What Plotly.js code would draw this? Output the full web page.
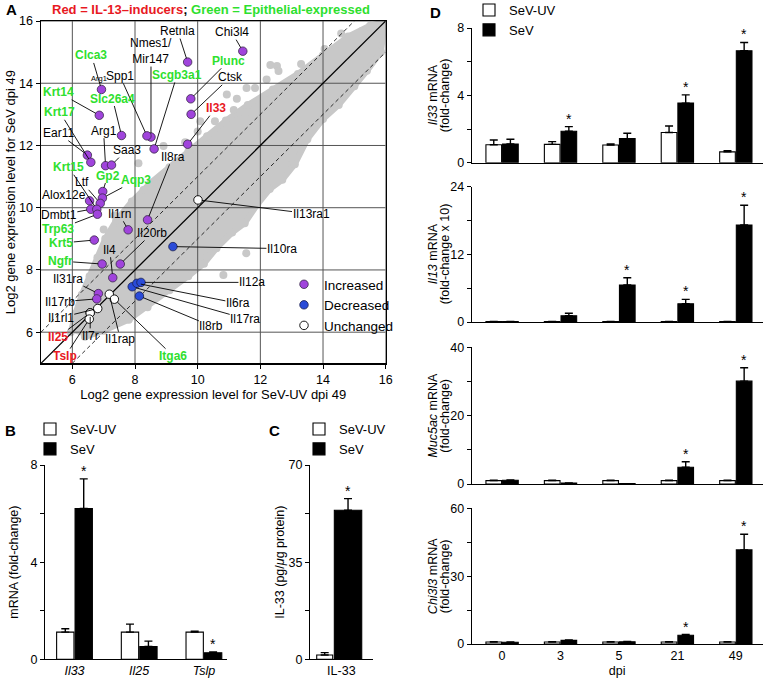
<!DOCTYPE html>
<html><head><meta charset="utf-8">
<script src="https://cdn.plot.ly/plotly-3.0.1.min.js"></script>
<style>html,body{margin:0;padding:0;background:#fff}#chart{width:772px;height:687px}</style>
</head><body><div id="chart"></div>
<script>
// ================= DATA =================
// Panel A — labelled genes (log2 SeV-UV dpi49 vs log2 SeV dpi49)
const incGenes = ['Chi3l4','Retnla','Plunc','Ctsk','Il33','Nmes1/Mir147','Spp1','Scgb3a1','Clca3','Krt14','Slc26a4','Arg1','Saa3','Ear11','Krt17','Gp2','Aqp3','Ltf','Alox12e','Dmbt1','Krt15','Trp63','Il1rn','Il8ra','Krt5','Ngfr','Il20rb','Il4','Il31ra','Il17rb'];
const incX = [11.44,9.68,9.78,9.79,9.68,8.51,8.38,8.61,6.93,6.86,7.57,7.06,7.25,6.48,6.59,6.97,6.96,6.89,6.55,6.59,6.78,6.80,7.78,8.40,6.70,6.95,7.53,7.29,6.83,6.78];
const incY = [15.03,14.68,13.50,13.00,12.04,12.27,12.31,11.89,13.80,12.97,12.32,11.35,11.37,11.69,11.46,10.52,10.31,10.14,10.22,9.95,9.95,9.79,9.29,9.61,8.96,8.19,8.19,7.75,7.24,7.07];
const decGenes = ['Il10ra','Il17ra','Il6ra','Il12a','Il8rb'];
const decX = [9.21,7.91,8.06,8.19,8.14];
const decY = [8.75,7.46,7.57,7.60,7.16];
const uncGenes = ['Il13ra1','Il1rap','Itga6','Il1rl1','Il25','Il7r','Tslp'];
const uncX = [10.01,7.18,7.34,6.81,6.57,6.57,6.54];
const uncY = [10.25,7.22,7.06,6.76,6.62,6.62,6.42];
const greenGenes = ['Clca3','Krt14','Krt17','Slc26a4','Scgb3a1','Plunc','Krt15','Gp2','Aqp3','Trp63','Krt5','Ngfr','Itga6'];
const redGenes = ['Il33','Il25','Tslp'];
// Panel A — grey cloud of all other genes (outline of dense core + scattered genes)
const cloudX = [5.95,6.1,6.3,6.55,6.8,7.05,7.4,7.9,8.5,9.1,9.7,10.3,10.9,11.6,12.4,13.2,14.0,14.8,15.5,15.9,
                15.95,15.85,15.4,15.0,14.5,14.0,13.5,13.1,12.7,12.3,11.9,11.5,11.1,10.6,10.2,9.7,9.1,8.4,7.8,7.0,6.4];
const cloudY = [6.0,6.6,7.2,7.8,8.4,9.0,9.6,10.2,10.8,11.3,11.8,12.3,12.8,13.3,13.8,14.3,14.9,15.5,15.85,15.95,
                15.85,15.0,14.4,13.9,13.3,12.85,12.2,11.4,10.9,10.6,10.1,9.5,9.2,8.7,8.2,7.8,7.35,6.8,6.4,6.05,5.85];
const otherX = [14.58,15.24,12.53,12.58,12.20,12.32,11.83,11.56,11.25,10.93,10.55,11.51,10.08,11.15,12.95,11.55,10.82,10.30,8.91,8.27,8.70,8.11,7.85,13.30,14.05,9.60,10.0,7.0,7.35];
const otherY = [15.60,15.68,14.55,14.39,14.12,14.59,13.85,13.85,13.50,13.64,12.78,13.05,12.78,13.14,11.60,8.54,7.84,8.43,11.98,10.57,10.79,11.43,10.04,14.62,15.10,12.10,12.45,9.30,9.75];
const diagOffsets = [-1, 0, 1];

// Panel B — mRNA fold-change
const bCats = ['Il33','Il25','Tslp'];
const bUV = [1.12,1.12,1.12], bUVerr = [0.14,0.33,0.04];
const bSeV = [6.21,0.53,0.27], bSeVerr = [1.22,0.22,0.03];
const bStars = [0,2];

// Panel C — IL-33 protein
const cCats = ['IL-33'];
const cUV = [1.55], cUVerr = [0.85];
const cSeV = [53.7], cSeVerr = [4.2];
const cStars = [0];

// Panel D — time course
const dpi = ['0','3','5','21','49'];
const dPanels = [
  {title:['<i>Il33</i> mRNA','(fold-change)'], max:8, step:2,
   uv:[1.07,1.09,1.05,1.79,0.64], uvErr:[0.28,0.16,0.06,0.39,0.07],
   sev:[1.11,1.87,1.43,3.54,6.65], sevErr:[0.28,0.27,0.32,0.49,0.49], stars:[1,3,4]},
  {title:['<i>Il13</i> mRNA','(fold-change x 10)'], max:24, step:6,
   uv:[0.08,0.08,0.08,0.08,0.08], uvErr:[0,0,0,0,0],
   sev:[0.08,1.12,6.56,3.25,17.2], sevErr:[0,0.42,1.3,0.77,3.5], stars:[2,3,4]},
  {title:['<i>Muc5ac</i> mRNA','(fold-change)'], max:40, step:10,
   uv:[1.0,1.0,1.0,1.0,1.0], uvErr:[0.1,0.1,0.1,0.1,0.1],
   sev:[1.1,0.3,0.1,4.9,30.1], sevErr:[0.1,0.0,0.0,1.6,3.9], stars:[3,4]},
  {title:['<i>Chi3l3</i> mRNA','(fold-change)'], max:60, step:15,
   uv:[0.9,0.9,0.9,0.9,0.9], uvErr:[0.1,0.1,0.1,0.1,0.1],
   sev:[0.8,1.6,1.0,3.9,41.6], sevErr:[0.1,0.2,0.1,0.3,6.9], stars:[3,4]}
];

// ================= LAYOUT HELPERS =================
const W = 772, H = 687;
const FONT = 'Liberation Sans, Arial, Helvetica, sans-serif';
const GREEN = '#2ee02e', RED = '#e8191f', PURPLE = '#a044dc', BLUE = '#2a4bd8', GREY = '#c8c8c8';
const fx = p => p / W, fy = p => 1 - p / H;
const BARGAP = 0.43;
const starShift = (1 - BARGAP) / 4;

// label offsets in px (text centre relative to point)
const labelOffset = {
  'Chi3l4':[-11,-19],'Retnla':[-10,-31],'Nmes1/Mir147':[0,-86],'Spp1':[-27,-60],'Plunc':[38,-38],
  'Ctsk':[39,-37],'Il33':[28,-36],'Scgb3a1':[23,-74],'Clca3':[-10,-34],'Krt14':[-41,-23],
  'Slc26a4':[-9,-37],'Krt17':[-31,-50],'Arg1':[-2,-35],'Ear11':[-29,-22],'Saa3':[15,-15],
  'Il8ra':[25,-63],'Krt15':[-28,-42],'Gp2':[5,-16],'Aqp3':[34,-18],'Ltf':[-18,-21],
  'Alox12e':[-26,-6],'Dmbt1':[-32,6],'Trp63':[-39,15],'Krt5':[-33,3],'Ngfr':[-42,-3],
  'Il1rn':[-9,-16],'Il20rb':[32,-31],'Il4':[-3,-28],'Il31ra':[-30,-15],'Il17rb':[-37,3],
  'Il1rl1':[-37,9],'Il25':[-32,24],'Tslp':[-24,37],'Il7r':[0,23],'Il1rap':[11,45],
  'Itga6':[59,57],'Il13ra1':[113,14],'Il10ra':[109,2],'Il12a':[111,0],'Il6ra':[101,20],
  'Il17ra':[113,32],'Il8rb':[72,30]
};

const traces = [];
const annotations = [];

// ---------- Panel A ----------
traces.push({x: cloudX, y: cloudY, type:'scatter', mode:'lines+markers', fill:'toself',
  fillcolor: GREY, line:{color:GREY, width:6}, marker:{color:GREY, size:8},
  xaxis:'x', yaxis:'y', showlegend:false, hoverinfo:'skip'});
traces.push({x: otherX, y: otherY, type:'scatter', mode:'markers', marker:{color:GREY, size:8},
  xaxis:'x', yaxis:'y', showlegend:false, hoverinfo:'skip'});
// grid (drawn over the cloud, as in the figure)
const aTicks = [6,8,10,12,14,16];
const gx = [], gy = [];
aTicks.forEach(t => { gx.push(t,t,null, 5,16,null); gy.push(5,16,null, t,t,null); });
traces.push({x: gx, y: gy, type:'scatter', mode:'lines', line:{color:'#555', width:1},
  xaxis:'x', yaxis:'y', showlegend:false, hoverinfo:'skip'});
diagOffsets.forEach(o => {
  const lo = Math.max(5, 5 - o), hi = Math.min(16, 16 - o);
  traces.push({x:[lo, hi], y:[lo + o, hi + o], type:'scatter', mode:'lines',
    line:{color:'#000', width: o === 0 ? 1.3 : 0.8, dash: o === 0 ? 'solid' : '4px,3px'},
    xaxis:'x', yaxis:'y', showlegend:false, hoverinfo:'skip'});
});
traces.push({x: incX, y: incY, text: incGenes, name:'Increased', type:'scatter', mode:'markers',
  marker:{color:PURPLE, size:8.5, line:{color:'#3a2a4a', width:0.8}}, xaxis:'x', yaxis:'y', legend:'legend'});
traces.push({x: decX, y: decY, text: decGenes, name:'Decreased', type:'scatter', mode:'markers',
  marker:{color:BLUE, size:8.5, line:{color:'#1a2050', width:0.8}}, xaxis:'x', yaxis:'y', legend:'legend'});
traces.push({x: uncX, y: uncY, text: uncGenes, name:'Unchanged', type:'scatter', mode:'markers',
  marker:{color:'#fff', size:8.5, line:{color:'#000', width:0.9}}, xaxis:'x', yaxis:'y', legend:'legend'});

function addGeneLabels(names, xs, ys) {
  names.forEach((g, i) => {
    const off = labelOffset[g] || [20, -20];
    const isG = greenGenes.includes(g), isR = redGenes.includes(g);
    annotations.push({xref:'x', yref:'y', x: xs[i], y: ys[i], ax: off[0], ay: off[1],
      text: (isG || isR) ? '<b>' + g.replace('/', '/<br>') + '</b>' : g.replace('/', '/<br>'),
      showarrow:true, arrowhead:0, arrowwidth:0.9, arrowcolor:'#000', standoff:4, borderpad:0,
      font:{family:FONT, size:12, color: isG ? GREEN : (isR ? RED : '#000')}});
  });
}
addGeneLabels(incGenes, incX, incY);
addGeneLabels(decGenes, decX, decY);
addGeneLabels(uncGenes, uncX, uncY);
// small secondary label next to Clca3
const ci = incGenes.indexOf('Clca3');
annotations.push({xref:'x', yref:'y', x: incX[ci], y: incY[ci], yshift: 11, xshift:-2, showarrow:false,
  text:'Arg1', font:{family:FONT, size:7.5, color:'#000'}});

// ---------- Bars helper ----------
function barPair(cats, uv, uvErr, sev, sevErr, xa, ya, legendId, show, extra) {
  const zeros = uv.map(() => 0);
  const eb = (arr) => ({type:'data', symmetric:false, array: arr, arrayminus: zeros,
    color:'#000', thickness:1.4, width:4});
  const t1 = Object.assign({x: cats, y: uv, name:'SeV-UV', type:'bar',
    marker:{color:'#fff', line:{color:'#000', width:1.1}}, error_y: eb(uvErr),
    xaxis: xa, yaxis: ya, legend: legendId, showlegend: show}, extra ? extra[0] : {});
  const t2 = Object.assign({x: cats, y: sev, name:'SeV', type:'bar',
    marker:{color:'#000', line:{color:'#000', width:1.1}}, error_y: eb(sevErr),
    xaxis: xa, yaxis: ya, legend: legendId, showlegend: show}, extra ? extra[1] : {});
  traces.push(t1, t2);
}
function stars(idxs, vals, errs, xref, yref, shift) {
  idxs.forEach(i => annotations.push({xref, yref, x: i + shift, y: vals[i] + errs[i],
    xanchor:'center', yanchor:'middle', yshift: 8, showarrow:false, text:'*',
    font:{family:FONT, size:14, color:'#000'}}));
}

// ---------- Panel B ----------
barPair(bCats, bUV, bUVerr, bSeV, bSeVerr, 'x2', 'y2', 'legend2', true);
stars(bStars, bSeV, bSeVerr, 'x2', 'y2', starShift);

// ---------- Panel C ----------
barPair(cCats, cUV, cUVerr, cSeV, cSeVerr, 'x3', 'y3', 'legend3', true,
  [{width:0.255, offset:-0.393}, {width:0.437, offset:-0.112}]);
stars(cStars, cSeV, cSeVerr, 'x3', 'y3', -0.112 + 0.437 / 2);

// ---------- Panel D ----------
dPanels.forEach((p, k) => {
  const n = k + 4;
  barPair(dpi, p.uv, p.uvErr, p.sev, p.sevErr, 'x' + n, 'y' + n, 'legend4', k === 0);
  stars(p.stars, p.sev, p.sevErr, 'x' + n, 'y' + n, starShift);
});

// ---------- Axes ----------
const tickFont = {family:FONT, size:12.5, color:'#000'};
const titleFont = {family:FONT, size:12.5, color:'#000'};
function yAx(domain, max, step, title, standoff) {
  const tv = [], tt = [];
  for (let v = 0; v <= max + 1e-9; v += step) { tv.push(v); tt.push((Math.round(v / step) % 2 === 0) ? String(v) : ''); }
  return {domain, range:[0, max], tickvals: tv, ticktext: tt, ticks:'outside', ticklen:4, tickwidth:1,
    tickcolor:'#000', showline:true, linecolor:'#000', linewidth:1, showgrid:false, zeroline:false,
    tickfont: tickFont, title:{text: title, font: titleFont, standoff}, fixedrange:true};
}
function xAx(domain, range, cats, ticktext, showLabels, title, anchor) {
  return {domain, range, type:'category', tickvals: cats, ticktext, ticks:'', showline:true,
    linecolor:'#000', linewidth:1, showgrid:false, zeroline:false, showticklabels: showLabels,
    tickfont: tickFont, title: title ? {text:title, font:titleFont, standoff:4} : {text:''},
    anchor, fixedrange:true};
}

const layout = {
  width: W, height: H, margin:{l:0, r:0, t:0, b:0, autoexpand:false}, paper_bgcolor:'#fff', plot_bgcolor:'rgba(0,0,0,0)',
  font:{family:FONT, size:12, color:'#000'},
  barmode:'group', bargap: BARGAP, bargroupgap: 0.06,
  xaxis:{domain:[fx(41), fx(385.7)], range:[5,16], tickvals:aTicks, ticks:'outside', ticklen:4,
    tickcolor:'#000', showline:true, mirror:true, linecolor:'#000', linewidth:1.5, showgrid:false,
    zeroline:false, tickfont:tickFont, anchor:'y', fixedrange:true,
    title:{text:'Log2 gene expression level for SeV-UV dpi 49', font:{family:FONT, size:13}, standoff:0}},
  yaxis:{domain:[fy(363.3), fy(21)], range:[5,16], tickvals:aTicks, ticks:'outside', ticklen:4,
    tickcolor:'#000', showline:true, mirror:true, linecolor:'#000', linewidth:1.5, showgrid:false,
    zeroline:false, tickfont:tickFont, anchor:'x', fixedrange:true,
    title:{text:'Log2 gene expression level for SeV dpi 49', font:{family:FONT, size:13}, standoff:0}},
  xaxis2: xAx([fx(45), fx(227)], [-0.456, 2.357], bCats, bCats.map(c => '<i>' + c + '</i>'), true, '', 'y2'),
  yaxis2: Object.assign(yAx([fy(659.3), fy(465)], 8, 2, 'mRNA (fold-change)', 9), {anchor:'x2'}),
  xaxis3: xAx([fx(310), fx(372.7)], [-0.5, 0.5], cCats, cCats, true, '', 'y3'),
  yaxis3: Object.assign(yAx([fy(659.3), fy(465)], 70, 17.5, 'IL-33 (pg/<i>μ</i>g protein)', 1), {anchor:'x3'}),
  annotations: annotations,
  showlegend: true,
  legend:{x:fx(284), y:fy(269), xanchor:'left', yanchor:'top', bgcolor:'rgba(0,0,0,0)',
    font:{family:FONT, size:13.5}, tracegroupgap:0},
  legend2:{x:fx(30), y:fy(414), xanchor:'left', yanchor:'top', bgcolor:'rgba(0,0,0,0)',
    font:{family:FONT, size:13}, traceorder:'normal'},
  legend3:{x:fx(299), y:fy(414), xanchor:'left', yanchor:'top', bgcolor:'rgba(0,0,0,0)',
    font:{family:FONT, size:13}, traceorder:'normal'},
  legend4:{x:fx(469), y:fy(-5), xanchor:'left', yanchor:'top', bgcolor:'rgba(0,0,0,0)',
    font:{family:FONT, size:13}, traceorder:'normal'}
};
const dDomains = [[fy(162.7), fy(28)], [fy(322), fy(186.7)], [fy(484), fy(347.3)], [fy(644), fy(508.3)]];
dPanels.forEach((p, k) => {
  const n = k + 4;
  layout['xaxis' + n] = xAx([fx(471.7), fx(762.7)], [-0.52, 4.46], dpi, dpi, k === 3, k === 3 ? 'dpi' : '', 'y' + n);
  layout['yaxis' + n] = Object.assign(yAx(dDomains[k], p.max, p.step, '', 0), {anchor:'x' + n});
  // two-line y title, lines placed as in the figure
  const yc = (dDomains[k][0] + dDomains[k][1]) / 2;
  p.title.forEach((line, j) => annotations.push({xref:'paper', yref:'paper', x: fx(433 + 12 * j), y: yc,
    xanchor:'center', yanchor:'middle', textangle:-90, showarrow:false, text: line, font: titleFont}));
});

// panel letters & header
[['A',11.5,10],['B',10,430],['C',274,430],['D',435,12]].forEach(([t, x, y]) =>
  annotations.push({xref:'paper', yref:'paper', x: fx(x), y: fy(y), xanchor:'center', yanchor:'middle',
    showarrow:false, text:'<b>' + t + '</b>', font:{family:FONT, size:15, color:'#000'}}));
annotations.push({xref:'paper', yref:'paper', x: fx(210.7), y: fy(9), xanchor:'center', yanchor:'middle',
  showarrow:false,
  text:'<b><span style="color:' + RED + '">Red = IL-13–inducers</span>; <span style="color:' + GREEN + '">Green = Epithelial-expressed</span></b>',
  font:{family:FONT, size:13, color:'#000'}});

Plotly.newPlot('chart', traces, layout, {displayModeBar:false, staticPlot:true});
</script>
</body></html>
